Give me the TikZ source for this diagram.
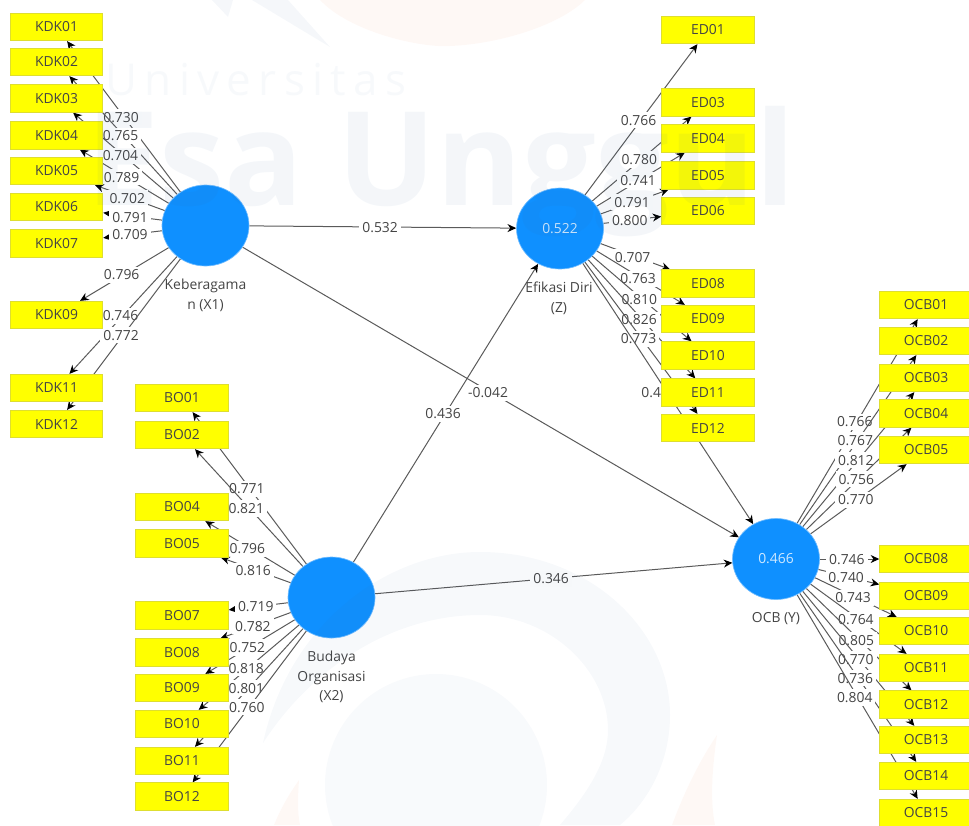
\documentclass[tikz,border=0pt]{standalone}
\usepackage{fontspec}
\setmainfont{Open Sans}
\usetikzlibrary{arrows.meta,shapes.geometric}
\pgfdeclarelayer{edgelayer}
\pgfdeclarelayer{marklayer}
\pgfsetlayers{edgelayer,main,marklayer}
\definecolor{lvblue}{HTML}{0F90FF}
\definecolor{mvyellow}{HTML}{FFFF00}
\definecolor{mvedge}{HTML}{DEDE30}
\definecolor{inktext}{HTML}{444444}
\definecolor{pathgray}{HTML}{5A5A5A}
\definecolor{markblue}{HTML}{3F6A9F}
\definecolor{markred}{HTML}{EE7744}
\tikzset{
    latent/.style={ellipse,fill=lvblue,draw=lvblue!60!white,line width=0.5pt,minimum width=65.25pt,minimum height=60.75pt,inner sep=0pt,text=white!80!lvblue,font=\fontsize{10.4}{12}\selectfont},
    latentname/.style={align=center,text=inktext,inner sep=0pt,font=\fontsize{10.4}{14.8}\selectfont},
    indbox/.style={rectangle,fill=mvyellow,draw=mvedge,line width=0.6pt,minimum width=69.5pt,minimum height=20.6pt,inner sep=0pt,text=inktext,font=\fontsize{10.4}{12}\selectfont},
    loading/.style={draw=pathgray,line width=0.75pt,-{Stealth[black,length=6.5pt,width=6pt]}},
    weight/.style={midway,fill=white,inner xsep=2.2pt,inner ysep=2.2pt,xshift=-2pt,yshift=-0.5pt,text=inktext,font=\fontsize{10.4}{12}\selectfont},
    markfill/.style={fill=markblue,opacity=0.05},
    markflame/.style={fill=markred,opacity=0.05},
}
\begin{document}
\begin{tikzpicture}[x=0.75pt,y=-0.75pt]
    \useasboundingbox (0,0) rectangle (969,825);

    % latent variables
    \node[latent] (KB) at (205.5,225.5) {};
    \node[latent] (EF) at (560,228.5) {0.522};
    \node[latent] (BD) at (331.5,597.5) {};
    \node[latent] (OC) at (776,559) {0.466};

    \node[latentname] (KBname) at (205.5,295) {Keberagama\\n (X1)};
    \node[latentname] (EFname) at (559,298) {Efikasi Diri\\(Z)};
    \node[latentname] (BDname) at (331.5,677) {Budaya\\Organisasi\\(X2)};
    \node[latentname] (OCname) at (776,618.5) {OCB (Y)};

    % indicators
    \foreach \nm/\yy/\val in {KDK01/27/0.730,KDK02/62/0.765,KDK03/98.5/0.704,KDK04/135.5/0.789,KDK05/171/0.702,KDK06/207/0.791,KDK07/243.5/0.709,KDK09/315/0.796,KDK11/388/0.746,KDK12/424/0.772}{
        \node[indbox] (\nm) at (56.5,\yy) {\nm};
        \begin{pgfonlayer}{edgelayer}
            \draw[loading] (KB) -- node[weight] {\val} (\nm);
        \end{pgfonlayer}
    }
    \foreach \nm/\yy/\val in {BO01/398/0.771,BO02/435/0.821,BO04/507/0.796,BO05/543.5/0.816,BO07/615.5/0.719,BO08/652.5/0.782,BO09/688/0.752,BO10/724/0.818,BO11/761/0.801,BO12/796.5/0.760}{
        \node[indbox] (\nm) at (182,\yy) {\nm};
        \begin{pgfonlayer}{edgelayer}
            \draw[loading] (BD) -- node[weight] {\val} (\nm);
        \end{pgfonlayer}
    }
    \foreach \nm/\yy/\val in {ED01/30/0.766,ED03/102.5/0.780,ED04/138.5/0.741,ED05/175.5/0.791,ED06/211/0.800,ED08/283.5/0.707,ED09/319/0.763,ED10/355.5/0.810,ED11/392.5/0.826,ED12/428/0.773}{
        \node[indbox] (\nm) at (708,\yy) {\nm};
        \begin{pgfonlayer}{edgelayer}
            \draw[loading] (EF) -- node[weight] {\val} (\nm);
        \end{pgfonlayer}
    }
    \foreach \nm/\yy/\val in {OCB01/305/0.766,OCB02/341/0.767,OCB03/378/0.812,OCB04/413.5/0.756,OCB05/450/0.770,OCB08/559/0.746,OCB09/596/0.740,OCB10/631/0.743,OCB11/668/0.764,OCB12/704.5/0.805,OCB13/740/0.770,OCB14/776/0.736,OCB15/813/0.804}{
        \node[indbox] (\nm) at (926,\yy) {\nm};
        \begin{pgfonlayer}{edgelayer}
            \draw[loading] (OC) -- node[weight] {\val} (\nm);
        \end{pgfonlayer}
    }

    % structural paths
    \begin{pgfonlayer}{edgelayer}
        \draw[loading] (KB) -- node[weight] {0.532} (EF);
        \draw[loading] (KB) -- node[weight] {-0.042} (OC);
        \draw[loading] (BD) -- node[weight] {0.436} (EF);
        \draw[loading] (BD) -- node[weight] {0.346} (OC);
        \draw[loading] (EF) -- (OC);
        \node[anchor=east,fill=white,inner sep=0pt,text=inktext,font=\fontsize{10.4}{12}\selectfont] (EFOCweight) at (ED11.west) {0.4};
    \end{pgfonlayer}

    % watermark
    \begin{pgfonlayer}{marklayer}
        \fill[markflame] (320,0) .. controls (350,32) and (420,48) .. (450,46) .. controls (500,44) and (560,25) .. (585,0) -- cycle;
        \fill[markflame] (274,825) .. controls (282,805) and (292,790) .. (299,780) .. controls (298,795) and (297,810) .. (300,825) -- cycle;
        \fill[markflame] (672,825) .. controls (685,790) and (700,760) .. (717,735) .. controls (712,770) and (710,800) .. (715,825) -- cycle;
        \fill[markfill] (212,0) -- (228,17) -- (233,0) -- cycle;
        \fill[markfill] (252,0) -- (330,47) -- (288,0) -- cycle;
        \node[markfill,fill opacity=0,text opacity=0.04,text=markblue,inner sep=0pt,font=\fontsize{33}{35}\selectfont] (univ) at (256,80) {U\,n\,i\,v\,e\,r\,s\,i\,t\,a\,s};
        \node[markfill,fill opacity=0,text opacity=0.06,text=markblue,inner sep=0pt,font=\bfseries\fontsize{98}{99}\selectfont] (esa) at (441,172) {Esa Unggul};
        \fill[markfill,opacity=0.035] (436,785) circle (111);
        \fill[markfill,opacity=0.045] (263,743) .. controls (290,620) and (390,552) .. (480,552) .. controls (590,552) and (670,630) .. (670,715) .. controls (670,760) and (650,800) .. (620,825) -- (560,825) .. controls (590,790) and (608,760) .. (608,730) .. controls (608,670) and (550,615) .. (480,615) .. controls (390,615) and (310,670) .. (263,743) -- cycle;
    \end{pgfonlayer}
\end{tikzpicture}
\end{document}
